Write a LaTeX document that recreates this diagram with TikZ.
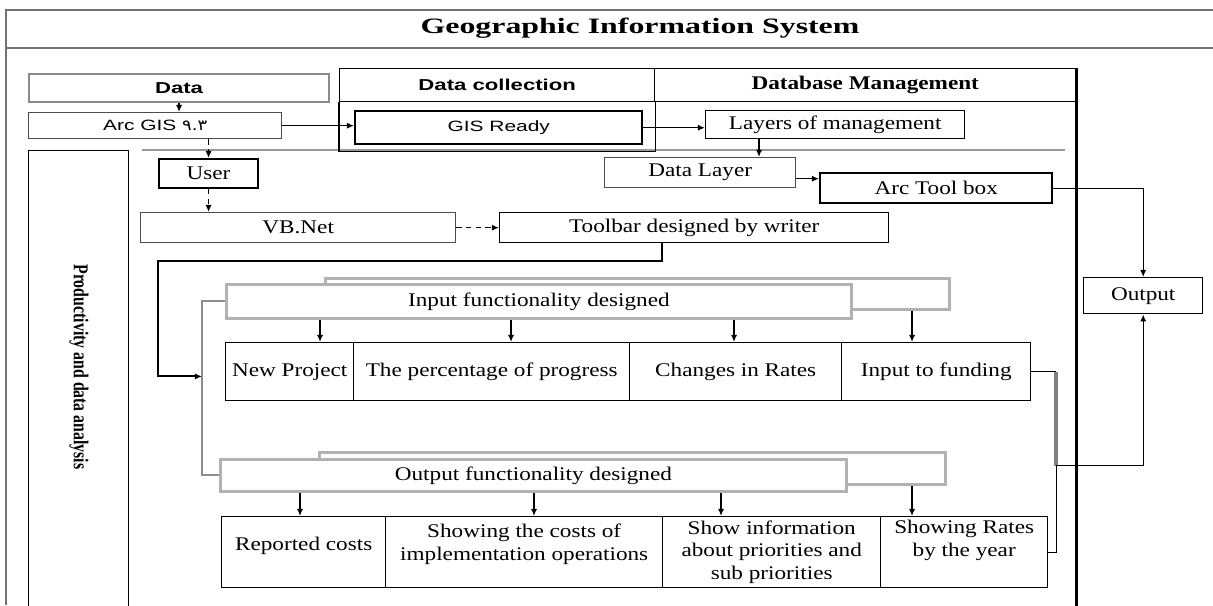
\documentclass[tikz,border=0pt]{standalone}
\usepackage{fontspec}
\setmainfont{Liberation Serif}[FakeStretch=1.2]
\setsansfont{Liberation Sans}[FakeStretch=1.4]
\newfontfamily\digitfont{DejaVu Sans}[FakeStretch=1.2]
\newfontfamily\narrowserif{Liberation Serif}[FakeStretch=0.75]
\newfontfamily\titleserif{Liberation Serif}[FakeStretch=1.45]
\usetikzlibrary{arrows.meta,calc}

\begin{document}
\begin{tikzpicture}[
    x=0.2mm, y=-0.2mm,
    boxw/.style={minimum width=#1*0.2mm},
    boxh/.style={minimum height=#1*0.2mm},
    box/.style={draw, line width=0.8pt, anchor=north west, inner sep=1pt, align=center, font=\fontsize{11}{13}\selectfont},
    strongbox/.style={box, line width=1.4pt},
    sansbox/.style={box, font=\sffamily\fontsize{8.5}{10}\selectfont},
    header/.style={box, font=\bfseries\fontsize{11}{13}\selectfont},
    funcbox/.style={box, draw=black!30, line width=1.6pt, fill=white},
    link/.style={-{Latex[length=4pt,width=3.5pt]}, line width=0.8pt},
    dashlink/.style={link, dash pattern=on 3pt off 2.5pt}
    ]
    \useasboundingbox (0,0) rectangle (1213,605);

    % frame and title
    \draw[black!55, line width=1pt] (1213,10) -- (6,10) -- (6,605);
    \draw[black!55, line width=1pt] (6,48) -- (1213,48);
    \node[font=\titleserif\bfseries\fontsize{12.5}{15}\selectfont] (title) at (640,28) {Geographic Information System};

    % sections
    \node[header, font=\sffamily\bfseries\fontsize{9}{11}\selectfont, boxw=315, boxh=33] (collect) at (339,68) {Data collection};
    \node[header, boxw=421, boxh=33] (dbm) at (654,68) {Database Management};
    \draw[black!40, line width=0.8pt] (142,150) -- (1065,150);
    \draw[line width=0.8pt] (collect.south west) -- ++(0,49) -| (collect.south east);
    \draw[line width=1.7pt] (dbm.north east) -- ++(0,540);

    \node[box, draw=black!45, line width=1.2pt, font=\sffamily\bfseries\fontsize{9}{11}\selectfont, boxw=300, boxh=28] (data) at (28,73) {Data};
    \node[sansbox, draw=black!70, boxw=253, boxh=26] (arcgis) at (28,112) {Arc GIS {\digitfont ۹.۳}};
    \node[sansbox, line width=1.4pt, boxw=287, boxh=33] (gisready) at (354,110) {GIS Ready};
    \node[box, boxw=259, boxh=28] (layers) at (705,110) {Layers of management};
    \node[box, line width=1.2pt, boxw=99, boxh=29] (user) at (158,158) {User};
    \node[box, draw=black!70, boxw=191, boxh=30] (datalayer) at (604,157) {Data Layer};
    \node[strongbox, boxw=232, boxh=30] (arctool) at (819,172) {Arc Tool box};
    \node[box, boxw=119, boxh=36] (output) at (1083,277) {Output};
    \node[box, boxw=100, boxh=465] (prodbox) at (28,150) {};
    \node[rotate=-90, font=\narrowserif\bfseries\fontsize{12}{14}\selectfont] (prod) at (79,367) {Productivity and data analysis};

    \node[box, draw=black!70, boxw=315, boxh=30] (vbnet) at (140,212) {VB.Net};
    \node[box, boxw=389, boxh=30] (toolbar) at (499,212) {Toolbar designed by writer};

    % input side
    \node[funcbox, boxw=624, boxh=31] (inputback) at (324,277) {};
    \node[funcbox, boxw=625, boxh=34] (inputfunc) at (225,283) {Input functionality designed};
    \node[box, boxw=128, boxh=58] (newproj) at (225,342) {New Project};
    \node[box, boxw=276, boxh=58] (percent) at (353,342) {The percentage of progress};
    \node[box, boxw=212, boxh=58] (changes) at (629,342) {Changes in Rates};
    \node[box, boxw=189, boxh=58] (funding) at (841,342) {Input to funding};

    % output side
    \node[funcbox, boxw=626, boxh=32] (outputback) at (318,451) {};
    \node[funcbox, boxw=626, boxh=32] (outputfunc) at (219,458) {Output functionality designed};
    \node[box, boxw=164, boxh=71, text depth=10pt] (reported) at (221,516) {Reported costs};
    \node[box, boxw=277, boxh=71, text depth=11pt] (showcosts) at (385,516) {Showing the costs of\\implementation operations};
    \node[box, boxw=218, boxh=71] (showinfo) at (662,516) {Show information\\about priorities and\\sub priorities};
    \node[box, boxw=167, boxh=71, text depth=16pt] (showrates) at (880,516) {Showing Rates\\by the year};

    % connectors
    \draw[link] (data.south) -- (data.south |- arcgis.north);
    \draw[link] (arcgis.east) -- (arcgis.east -| gisready.west);
    \draw[link] (gisready.east) -- (gisready.east -| layers.west);
    \coordinate (lm) at ($(layers.south west)+(54,0)$);
    \draw[link, line width=1.4pt] (lm) -- (lm |- datalayer.north);
    \coordinate (dl) at ($(datalayer.east)+(0,6)$);
    \draw[link] (dl) -- (dl -| arctool.west);
    \draw[link] (arctool.east) -| (output.north);
    \draw[dashlink] (arcgis.south -| user.north) -- (user.north);
    \draw[dashlink] (user.south) -- (user.south |- vbnet.north);
    \draw[dashlink] (vbnet.east) -- (toolbar.west);

    \draw[black!45, line width=1.1pt] (inputfunc.west) -- ++(-23,0) coordinate (bk) |- (outputfunc.west);
    \coordinate (feed) at ($(bk)+(0,75)$);
    \coordinate (tb) at ($(toolbar.south west)+(163,0)$);
    \draw[link, line width=1.2pt] (tb) -- ++(0,18) -| ($(feed)+(-44,0)$) -- (feed);

    \foreach \x/\b in {320/newproj, 511/percent, 734/changes}{
      \coordinate (t) at (\x,0);
      \draw[link] (inputfunc.south -| t) -- (\b.north -| t);
    }
    \coordinate (t) at (912,0);
    \draw[link] (inputback.south -| t) -- (funding.north -| t);

    \foreach \x/\b in {300/reported, 534/showcosts, 721/showinfo}{
      \coordinate (t) at (\x,0);
      \draw[link] (outputfunc.south -| t) -- (\b.north -| t);
    }
    \coordinate (t) at (912,0);
    \draw[link] (outputback.south -| t) -- (showrates.north -| t);

    \coordinate (merge) at ($(funding.east)+(25,94)$);
    \draw[line width=0.8pt] (funding.east) -- (funding.east -| merge);
    \draw[black!50, line width=2.2pt] (funding.east -| merge) -- (merge);
    \draw[line width=0.8pt] (showrates.east) -| (merge);
    \draw[link] (merge) -| (output.south);
\end{tikzpicture}
\end{document}
